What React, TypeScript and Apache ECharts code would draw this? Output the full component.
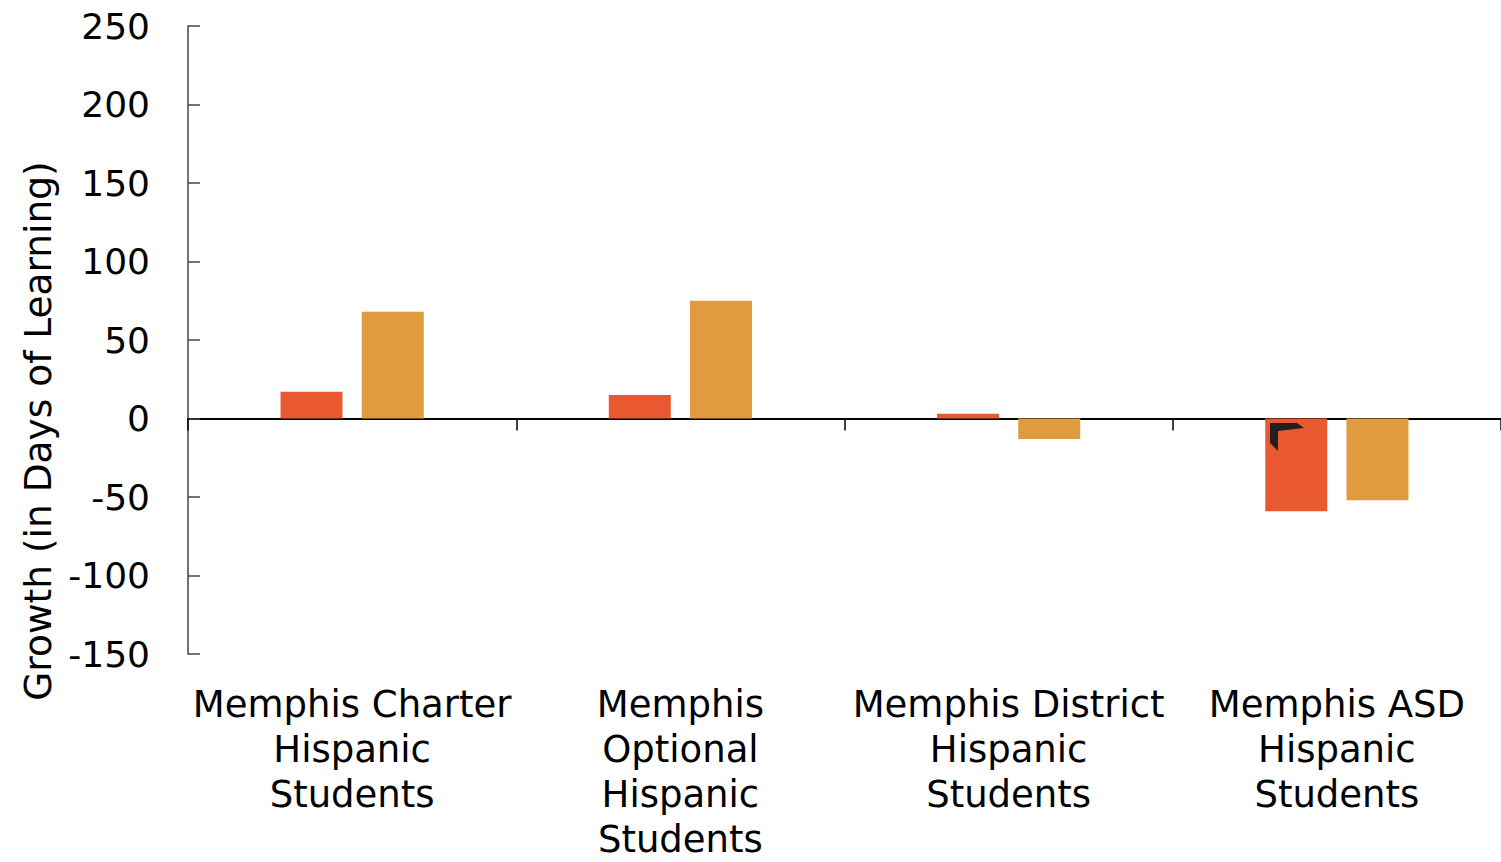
import React, { useEffect, useRef } from "react";
import * as echarts from "echarts";

const categories = [
  "Memphis Charter\nHispanic\nStudents",
  "Memphis\nOptional\nHispanic\nStudents",
  "Memphis District\nHispanic\nStudents",
  "Memphis ASD\nHispanic\nStudents",
];
const seriesA = [17, 15, 3, -59];
const seriesB = [68, 75, -13, -52];
const yMin = -150;
const yMax = 250;
const yStep = 50;
const yTitle = "Growth (in Days of Learning)";

const FONT = "DejaVu Sans, Verdana, sans-serif";

export default function App() {
  const ref = useRef<HTMLDivElement>(null);
  useEffect(() => {
    if (!ref.current) return;
    const chart = echarts.init(ref.current, undefined, { renderer: "svg" });
    chart.setOption({
      animation: false,
      grid: { left: 188, right: -11, top: 26, bottom: 202, containLabel: false },
      xAxis: [
        {
          type: "category",
          data: categories,
          position: "bottom",
          axisLine: { show: false, onZero: false },
          axisTick: { show: false },
          axisLabel: {
            color: "#000",
            fontFamily: FONT,
            fontSize: 37,
            lineHeight: 45,
            margin: 28,
            interval: 0,
          },
        },
        {
          type: "category",
          data: categories,
          position: "top",
          axisLine: { show: true, onZero: true, lineStyle: { color: "#000", width: 2 } },
          axisTick: { show: true, inside: true, length: 12, lineStyle: { color: "#000", width: 1.5 } },
          axisLabel: { show: false },
        },
      ],
      yAxis: {
        type: "value",
        min: yMin,
        max: yMax,
        interval: yStep,
        axisLine: { show: true, lineStyle: { color: "#444", width: 1.5 } },
        axisTick: { show: true, inside: true, length: 12, lineStyle: { color: "#444", width: 1.5 } },
        axisLabel: { color: "#000", fontFamily: FONT, fontSize: 36, margin: 38 },
        splitLine: { show: false },
      },
      series: [
        {
          type: "bar",
          xAxisIndex: 0,
          data: seriesA,
          itemStyle: { color: "#E85931" },
          barWidth: 62,
          barGap: "31%",
        },
        {
          type: "bar",
          xAxisIndex: 0,
          data: seriesB,
          itemStyle: { color: "#E09B41" },
          barWidth: 62,
        },
      ],
      graphic: [
        {
          type: "text",
          x: 38,
          y: 431,
          rotation: Math.PI / 2,
          style: {
            text: yTitle,
            fill: "#000",
            font: `37.5px ${FONT}`,
            align: "center",
            verticalAlign: "middle",
          },
        },
        {
          type: "polygon",
          z: 100,
          shape: {
            points: [
              [1270, 423],
              [1297, 423],
              [1304, 428],
              [1278, 431],
              [1278, 451],
              [1270, 443],
            ],
          },
          style: { fill: "#231f20" },
        },
      ],
    });
    return () => chart.dispose();
  }, []);
  return <div ref={ref} style={{ width: 1501, height: 862, position: "absolute", left: 0, top: 0 }} />;
}
